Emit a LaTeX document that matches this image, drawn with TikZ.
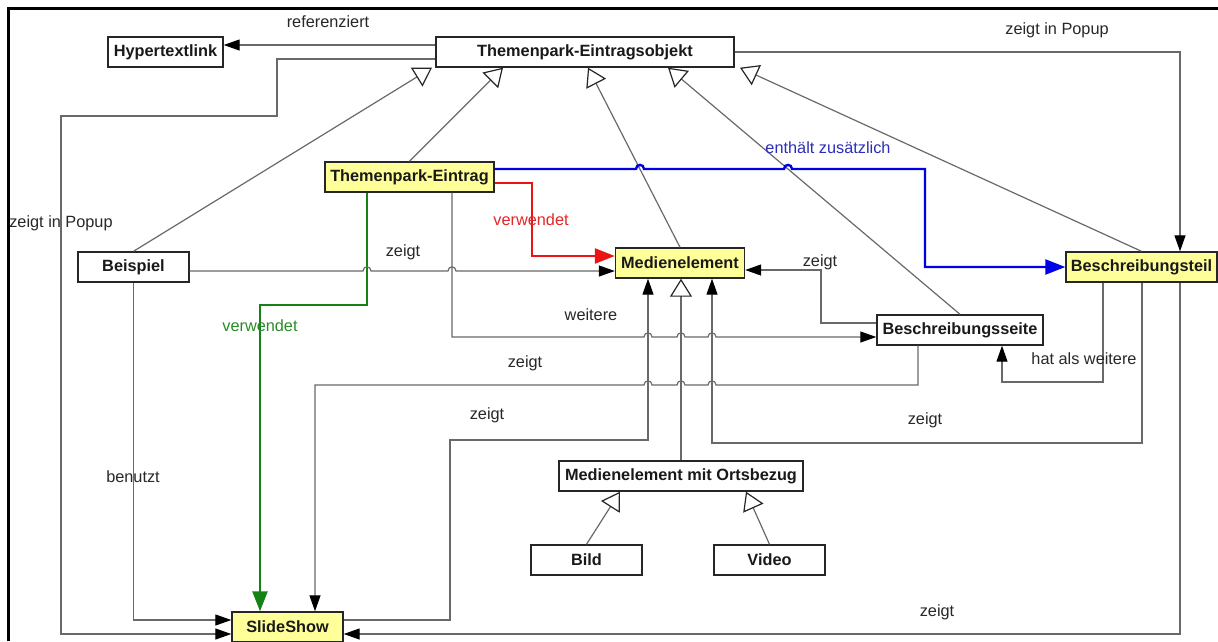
\documentclass[tikz,border=0pt]{standalone}
\usepackage{fontspec}
\setmainfont{Liberation Sans}
\usetikzlibrary{arrows.meta,calc}
\definecolor{nodefill}{RGB}{255,255,153}
\definecolor{linegray}{RGB}{105,105,105}
\definecolor{txtgray}{RGB}{40,40,40}
\definecolor{myblue}{RGB}{0,0,230}
\definecolor{myred}{RGB}{235,20,20}
\definecolor{mygreen}{RGB}{20,130,20}
\definecolor{lblblue}{RGB}{45,45,185}
\definecolor{lblred}{RGB}{225,40,40}
\definecolor{lblgreen}{RGB}{40,140,40}
\newcommand{\jr}[2]{-- ({#1-4},#2) .. controls ({#1-4},{#2-5.5}) and ({#1+4},{#2-5.5}) .. ({#1+4},#2)}
\newcommand{\jl}[2]{-- ({#1+4},#2) .. controls ({#1+4},{#2-5.5}) and ({#1-4},{#2-5.5}) .. ({#1-4},#2)}
\begin{document}
\begin{tikzpicture}[x=1pt,y=-1pt,
  box/.style={draw=black!85, line width=1.4pt, fill=white, inner sep=0pt, minimum height=30pt, font=\bfseries\fontsize{16.3}{19}\selectfont, text=black!90},
  ybox/.style={box, fill=nodefill},
  conn/.style={draw=linegray, line width=1.2pt},
  arr/.style={conn, -{Triangle[length=16pt,width=11pt,color=black]}},
  gen/.style={conn, -{Triangle[color=black!85,fill=white,length=18pt,width=22pt]}},
  blueconn/.style={draw=myblue, line width=2.4pt, -{Triangle[length=20pt,width=15pt,color=myblue]}},
  redconn/.style={draw=myred, line width=2.4pt, -{Triangle[length=20pt,width=15pt,color=myred]}},
  greenconn/.style={draw=mygreen, line width=2.4pt, -{Triangle[length=20pt,width=15pt,color=mygreen]}},
  lbl/.style={font=\fontsize{16.3}{19}\selectfont, text=txtgray, inner sep=0pt},
]
\useasboundingbox (0,0) rectangle (1218,641);
\fill[white] (0,0) rectangle (1218,641);
\draw[line width=3pt] (8.5,641) -- (8.5,8.5) -- (1218,8.5);

% nodes
\node[box, minimum width=115pt] (hyp) at (165.5,52) {Hypertextlink};
\node[box, minimum width=298pt] (tpeo) at (585,52) {Themenpark-Eintragsobjekt};
\node[ybox, minimum width=169pt] (te) at (409.5,177) {Themenpark-Eintrag};
\node[box, minimum width=111pt] (bsp) at (133.5,267) {Beispiel};
\node[ybox, minimum width=129pt] (med) at (680,263) {Medienelement};
\node[ybox, minimum width=151pt] (bteil) at (1141.5,267) {Beschreibungsteil};
\node[box, minimum width=166pt] (bseite) at (960,330) {Beschreibungsseite};
\node[box, minimum width=244pt] (mmo) at (681,476) {Medienelement mit Ortsbezug};
\node[box, minimum width=111pt] (bild) at (586.5,560) {Bild};
\node[box, minimum width=111pt] (video) at (769.5,560) {Video};
\node[ybox, minimum width=111pt] (slide) at (287.5,627) {SlideShow};

% referenziert
\draw[arr] (tpeo.west |- 0,45) -- (hyp.east |- 0,45);
% zeigt in Popup (left)
\draw[arr] (tpeo.west |- 0,59) -- (277,59) -- (277,116) -- (61,116) -- (61,634) -- (slide.west |- 0,634);
% zeigt in Popup (right)
\draw[arr] (tpeo.east) -- (1180,52) -- (bteil.north -| 1180,0);

% generalizations
\draw[gen] (bsp.north) -- (tpeo.south -| 432,0);
\draw[gen] (te.north) -- (tpeo.south -| 503,0);
\draw[gen] (med.north) -- (tpeo.south -| 588,0);
\draw[gen] (bseite.north) -- (tpeo.south -| 668,0);
\draw[gen] (bteil.north) -- (tpeo.south -| 740,0);
\draw[gen] (mmo.north) -- (med.south -| mmo.north);
\draw[gen] (bild.north) -- (mmo.south -| 620,0);
\draw[gen] (video.north) -- (mmo.south -| 746,0);

% coloured connectors
\draw[blueconn] (te.east |- 0,169) \jr{640}{169} \jr{788}{169} -- (925,169) -- (925,267) -- (bteil.west |- 0,267);
\draw[redconn] (te.east |- 0,183) -- (532,183) -- (532,256) -- (med.west |- 0,256);
\draw[greenconn] (te.south -| 367,0) -- (367,305) -- (260,305) -- (slide.north -| 260,0);

% grey connectors
\draw[arr] (bsp.east |- 0,271) \jr{367}{271} \jr{452}{271} -- (med.west |- 0,271);
\draw[arr] (te.south -| 452,0) -- (452,337) \jr{648}{337} \jr{681}{337} \jr{712}{337} -- (bseite.west |- 0,337);
\draw[arr] (bseite.west |- 0,323) -- (821,323) -- (821,270) -- (med.east |- 0,270);
\draw[arr] (bseite.south -| 918,0) -- (918,385) \jl{712}{385} \jl{681}{385} \jl{648}{385} -- (315,385) -- (slide.north -| 315,0);
\draw[arr] (bteil.south -| 1103,0) -- (1103,382) -- (1002,382) -- (bseite.south -| 1002,0);
\draw[arr] (bteil.south -| 1142,0) -- (1142,443) -- (712,443) -- (med.south -| 712,0);
\draw[arr] (bteil.south -| 1180,0) -- (1180,634) -- (slide.east |- 0,634);
\draw[arr] (slide.east |- 0,620) -- (450,620) -- (450,440) -- (648,440) -- (med.south -| 648,0);
\draw[arr] (bsp.south) -- (bsp.south |- 0,620) -- (slide.west |- 0,620);

% labels
\node[lbl] (l1) at (328,22) {referenziert};
\node[lbl] (l2) at (61,223) {zeigt in Popup};
\node[lbl] (l3) at (1057,30) {zeigt in Popup};
\node[lbl, text=lblblue] (l4) at (828,148) {enthält zusätzlich};
\node[lbl, text=lblred] (l5) at (531,220) {verwendet};
\node[lbl, text=lblgreen] (l6) at (260,326) {verwendet};
\node[lbl] (l7) at (403,252) {zeigt};
\node[lbl] (l8) at (591,315) {weitere};
\node[lbl] (l9) at (820,262) {zeigt};
\node[lbl] (l10) at (525,363) {zeigt};
\node[lbl] (l11) at (1084,359) {hat als weitere};
\node[lbl] (l12) at (925,420) {zeigt};
\node[lbl] (l13) at (937,612) {zeigt};
\node[lbl] (l14) at (487,415) {zeigt};
\node[lbl] (l15) at (133,477) {benutzt};
\end{tikzpicture}
\end{document}
